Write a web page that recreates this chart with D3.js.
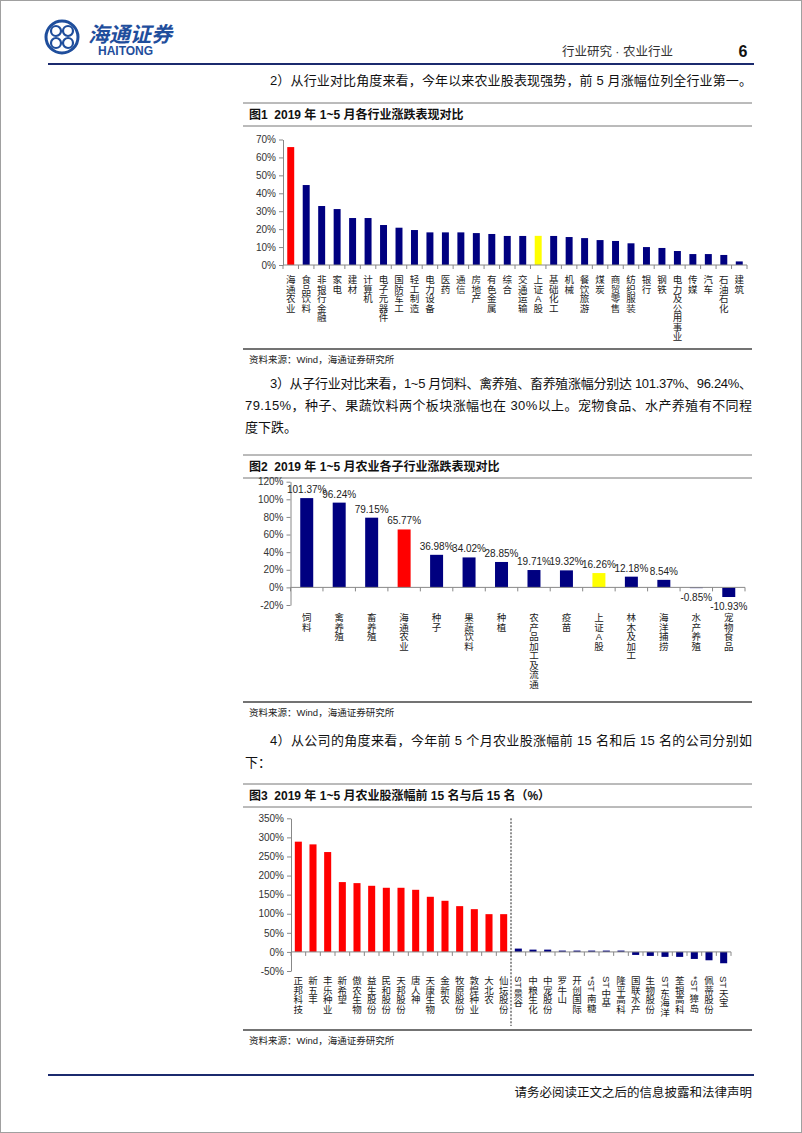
<!DOCTYPE html>
<html>
<head>
<meta charset="utf-8">
<script src="https://cdn.jsdelivr.net/npm/d3@7"></script>
<style>
  body { margin: 0; background: #fff; }
  svg { display: block; }
  text { font-family: "Liberation Sans", "Noto Sans CJK SC", sans-serif; }
</style>
</head>
<body>
<div id="page"></div>
<script>
// ---- data ----
const industries = ["海通农业","食品饮料","非银行金融","家电","建材","计算机","电子元器件","国防军工","轻工制造","电力设备",
  "医药","通信","房地产","有色金属","综合","交通运输","上证A股","基础化工","机械","餐饮旅游",
  "煤炭","商贸零售","纺织服装","银行","钢铁","电力及公用事业","传媒","汽车","石油石化","建筑"];
const industryValues = [65.77, 44.6, 32.9, 31.2, 26.2, 26.2, 22.3, 20.8, 19.5, 18.2,
  18.2, 18.2, 17.8, 17.3, 16.2, 16.2, 16.26, 16.2, 15.6, 15.0,
  13.9, 13.4, 12.1, 10.0, 9.5, 7.8, 6.1, 6.1, 5.6, 2.0];
const industryTicks = [0, 10, 20, 30, 40, 50, 60, 70];

const subSectors = ["饲料","禽养殖","畜养殖","海通农业","种子","果蔬饮料","种植","农产品加工及流通",
  "疫苗","上证A股","林木及加工","海洋捕捞","水产养殖","宠物食品"];
const subValues = [101.37, 96.24, 79.15, 65.77, 36.98, 34.02, 28.85, 19.71, 19.32, 16.26, 12.18, 8.54, -0.85, -10.93];
const subTicks = [-20, 0, 20, 40, 60, 80, 100, 120];

const topCompanies = ["正邦科技","新五丰","丰乐种业","新希望","傲农生物","益生股份","民和股份","天邦股份",
  "唐人神","天康生物","金新农","牧原股份","敦煌种业","大北农","仙坛股份"];
const topValues = [288.8, 281.7, 261.6, 182.9, 180.2, 173.2, 168, 168, 162.7, 144.4, 133.9, 119.9, 112, 98.9, 98.9];
const bottomCompanies = ["ST景谷","中粮生化","中宠股份","罗牛山","开创国际","*ST南糖","ST中基","隆平高科",
  "国联水产","生物股份","ST东海洋","荃银高科","*ST獐岛","佩蒂股份","ST天宝"];
const bottomValues = [8.7, 6, 6, 3.5, 3.5, 3.5, 3.5, 3.5, -7.9, -10.5, -13, -13, -18.4, -21.9, -29.7];
const companyTicks = [-50, 0, 50, 100, 150, 200, 250, 300, 350];

const RED = "#ff0000", NAVY = "#000080", YELLOW = "#ffff00", HEAD = "#1b2a6e";

const W = 802, H = 1133;
const svg = d3.select("#page").append("svg").attr("width", W).attr("height", H);

svg.append("rect").attr("x", 0.5).attr("y", 0.5).attr("width", W - 1).attr("height", H - 1)
  .attr("fill", "#fff").attr("stroke", "#a0a0a0");

// ---- header ----
const logo = svg.append("g").attr("transform", "translate(62,37)");
logo.append("circle").attr("r", 16).attr("fill", "none").attr("stroke", "#1f4e9c").attr("stroke-width", 3);
[[-6,-6],[6,-6],[-6,6],[6,6]].forEach(p => {
  logo.append("circle").attr("cx", p[0]).attr("cy", p[1]).attr("r", 5)
    .attr("fill", "none").attr("stroke", "#1f4e9c").attr("stroke-width", 2.2);
});
svg.append("text").attr("x", 88).attr("y", 42).attr("font-size", 21).attr("font-weight", "bold")
  .attr("font-style", "italic").attr("fill", "#1f4e9c").text("海通证券");
svg.append("text").attr("x", 98).attr("y", 55).attr("font-size", 12).attr("font-weight", "bold")
  .attr("fill", "#1f4e9c").text("HAITONG");
svg.append("text").attr("x", 673).attr("y", 56).attr("font-size", 12.5).attr("text-anchor", "end")
  .attr("fill", "#333").text("行业研究 · 农业行业");
svg.append("text").attr("x", 743).attr("y", 57).attr("font-size", 16).attr("font-weight", "bold")
  .attr("text-anchor", "middle").attr("fill", "#111").text("6");
svg.append("line").attr("x1", 48).attr("x2", 754).attr("y1", 64).attr("y2", 64)
  .attr("stroke", HEAD).attr("stroke-width", 2.2);

// ---- body text ----
function para(x, y, str, len) {
  const t = svg.append("text").attr("x", x).attr("y", y).attr("font-size", 13).attr("fill", "#111").text(str);
  if (len) t.attr("textLength", len).attr("lengthAdjust", "spacing");
}
para(270, 85, "2）从行业对比角度来看，今年以来农业股表现强势，前 5 月涨幅位列全行业第一。", 482);
para(270, 388, "3）从子行业对比来看，1~5 月饲料、禽养殖、畜养殖涨幅分别达 101.37%、96.24%、", 482);
para(245, 410, "79.15%，种子、果蔬饮料两个板块涨幅也在 30%以上。宠物食品、水产养殖有不同程", 507);
para(245, 432, "度下跌。");
para(270, 745, "4）从公司的角度来看，今年前 5 个月农业股涨幅前 15 名和后 15 名的公司分别如", 482);
para(245, 767, "下：");

// ---- footer ----
svg.append("line").attr("x1", 48).attr("x2", 754).attr("y1", 1075).attr("y2", 1075)
  .attr("stroke", HEAD).attr("stroke-width", 2);
svg.append("text").attr("x", 752).attr("y", 1097).attr("font-size", 12.5).attr("text-anchor", "end")
  .attr("fill", "#111").text("请务必阅读正文之后的信息披露和法律声明");

// ---- chart frame (title + rules + source) ----
function frame(top, title, bottom) {
  svg.append("line").attr("x1", 243).attr("x2", 752).attr("y1", top).attr("y2", top)
    .attr("stroke", "#777").attr("stroke-width", 1);
  svg.append("text").attr("x", 249).attr("y", top + 16).attr("font-size", 12).attr("font-weight", "bold")
    .attr("fill", "#111").attr("xml:space", "preserve").text(title);
  svg.append("line").attr("x1", 243).attr("x2", 752).attr("y1", top + 23).attr("y2", top + 23)
    .attr("stroke", "#777").attr("stroke-width", 1);
  svg.append("line").attr("x1", 243).attr("x2", 752).attr("y1", bottom).attr("y2", bottom)
    .attr("stroke", "#444").attr("stroke-width", 1.5);
  svg.append("text").attr("x", 249).attr("y", bottom + 14).attr("font-size", 9.5)
    .attr("fill", "#222").text("资料来源：Wind，海通证券研究所");
}

// vertical category label: one CJK char per line, latin runs turned sideways
function vlabel(g, str, cx, y0, size) {
  const tokens = str.match(/[A-Za-z*]{2,}|./g);
  let y = y0;
  tokens.forEach(tk => {
    if (tk.length > 1) {
      const len = tk.length * size * 0.6;
      g.append("text").attr("x", cx).attr("y", y)
        .attr("transform", `rotate(90,${cx},${y})`)
        .attr("dy", "0.35em")
        .attr("font-size", size).attr("fill", "#222").text(tk);
      y += len + 1;
    } else {
      g.append("text").attr("x", cx).attr("y", y + size * 0.88)
        .attr("text-anchor", "middle")
        .attr("font-size", size).attr("fill", "#222").text(tk);
      y += size;
    }
  });
}

// ---- bar chart ----
function barChart(o) {
  const g = svg.append("g");
  const x = d3.scaleBand().domain(d3.range(o.cats.length)).range([o.x0, o.x1]).padding(0);
  const y = d3.scaleLinear().domain(o.domain).range([o.yBot, o.yTop]);
  const bw = x.bandwidth();

  const yAxis = g.append("g").attr("transform", `translate(${o.x0},0)`)
    .call(d3.axisLeft(y).tickValues(o.ticks).tickSize(4).tickSizeOuter(0).tickFormat(d => d + "%"));
  yAxis.select(".domain").attr("stroke", "#888");
  yAxis.selectAll(".tick line").attr("stroke", "#888");
  yAxis.selectAll(".tick text").attr("font-size", 10).attr("fill", "#333")
    .attr("font-family", "Liberation Sans, sans-serif");

  g.selectAll("rect.bar").data(o.vals).join("rect").attr("class", "bar")
    .attr("x", (d, i) => x(i) + (bw - bw * o.ratio) / 2)
    .attr("width", bw * o.ratio)
    .attr("y", d => y(Math.max(0, d)))
    .attr("height", d => Math.abs(y(d) - y(0)))
    .attr("fill", (d, i) => o.color(i));

  // category axis
  g.append("line").attr("x1", o.x0).attr("x2", o.x1).attr("y1", y(0)).attr("y2", y(0)).attr("stroke", "#888");
  g.selectAll("line.xt").data(d3.range(o.cats.length + 1)).join("line").attr("class", "xt")
    .attr("x1", i => o.x0 + i * bw).attr("x2", i => o.x0 + i * bw)
    .attr("y1", y(0)).attr("y2", y(0) + 4).attr("stroke", "#888");

  const lg = g.append("g");
  o.cats.forEach((c, i) => vlabel(lg, c, x(i) + bw / 2, o.labelTop, o.catSize));

  if (o.showValues) {
    g.selectAll("text.val").data(o.vals).join("text").attr("class", "val")
      .attr("x", (d, i) => x(i) + bw / 2)
      .attr("y", d => d >= 0 ? y(d) - 5 : y(d) + 13)
      .attr("text-anchor", "middle")
      .attr("font-size", 10)
      .attr("fill", "#222")
      .text(d => d.toFixed(2) + "%");
  }

  if (o.divider != null) {
    const dx = o.x0 + o.divider * bw;
    g.append("line").attr("x1", dx).attr("x2", dx).attr("y1", o.yTop).attr("y2", o.divBottom)
      .attr("stroke", "#222").attr("stroke-width", 1).attr("stroke-dasharray", "2,1.5");
  }
}

// figure 1
frame(103, "图1  2019 年 1~5 月各行业涨跌表现对比", 349);
barChart({
  cats: industries, vals: industryValues, ticks: industryTicks, domain: [0, 70],
  x0: 283, x1: 747, yTop: 139.5, yBot: 265, ratio: 0.45, labelTop: 275, catSize: 9.5,
  color: i => industries[i] === "海通农业" ? RED : industries[i] === "上证A股" ? YELLOW : NAVY
});

// figure 2
frame(455, "图2  2019 年 1~5 月农业各子行业涨跌表现对比", 702);
barChart({
  cats: subSectors, vals: subValues, ticks: subTicks, domain: [-20, 120],
  x0: 290.5, x1: 745, yTop: 481.7, yBot: 605, ratio: 0.4, labelTop: 613, catSize: 9.5, showValues: true,
  color: i => subSectors[i] === "海通农业" ? RED : subSectors[i] === "上证A股" ? YELLOW : NAVY
});

// figure 3
const companies = topCompanies.concat(bottomCompanies);
const companyValues = topValues.concat(bottomValues);
frame(784, "图3  2019 年 1~5 月农业股涨幅前 15 名与后 15 名（%）", 1030);
barChart({
  cats: companies, vals: companyValues, ticks: companyTicks, domain: [-50, 350],
  x0: 291, x1: 731, yTop: 818.3, yBot: 971, ratio: 0.48, labelTop: 976, catSize: 9.5,
  divider: topCompanies.length, divBottom: 1026,
  color: i => i < topCompanies.length ? RED : NAVY
});
</script>
</body>
</html>
